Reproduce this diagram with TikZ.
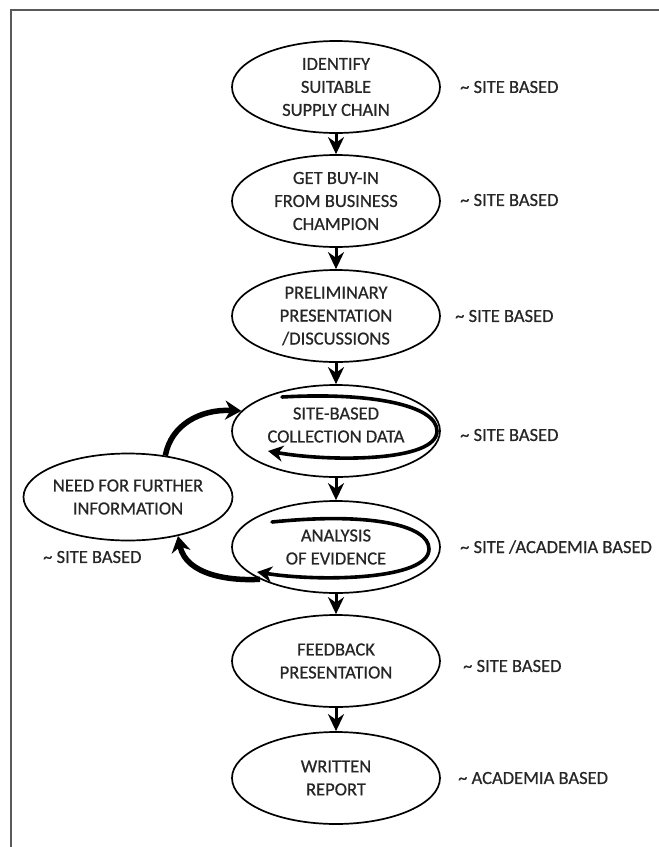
\documentclass[tikz,border=0pt]{standalone}
\usepackage{fontspec}
\setmainfont{Carlito}[FakeBold=0.6]
\usetikzlibrary{shapes.geometric,arrows.meta}
\begin{document}
\begin{tikzpicture}[x=1pt,y=-1pt,
  txt/.style={font=\fontsize{18.5}{23}\selectfont, text=black!85},
  stage/.style={ellipse, draw, line width=1.7pt, minimum width=208pt, minimum height=92pt,
    inner sep=0pt, align=center, txt},
  note/.style={anchor=west, inner sep=0pt, txt},
  flow/.style={line width=3pt, -{Stealth[length=17pt,width=16pt]}},
  spin/.style={line width=3.6pt, line cap=round, -{Stealth[length=15pt,width=16pt]}},
  back/.style={line width=5.5pt, -{Stealth[length=16pt,width=19pt]}},
]
\useasboundingbox (0,0) rectangle (659,847);
% page frame (top and left edges)
\draw[line width=2pt, black!65] (11,847) -- (11,10) -- (659,10);

% main sequence of stages
\node[stage] (e1) at (336,87)  {IDENTIFY\\SUITABLE\\SUPPLY CHAIN};
\node[stage] (e2) at (336,201) {GET BUY-IN\\FROM BUSINESS\\CHAMPION};
\node[stage] (e3) at (336,316) {PRELIMINARY\\PRESENTATION\\/DISCUSSIONS};
\node[stage, label={[txt, align=center, inner sep=0pt, yshift=6pt]center:SITE-BASED\\COLLECTION DATA}]
  (e4) at (336,431) {};
\node[stage] (e5) at (336,547) {ANALYSIS\\OF EVIDENCE};
\node[stage] (e6) at (336,661) {FEEDBACK\\PRESENTATION};
\node[stage] (e7) at (336,778) {WRITTEN\\REPORT};
\node[stage, inner xsep=-3pt, minimum width=209pt, minimum height=87pt] (need) at (128,497)
  {NEED FOR FURTHER\\INFORMATION};

% where each stage takes place
\node[note] (n1) at (460,87)  {\textasciitilde\ SITE BASED};
\node[note] (n2) at (460,200) {\textasciitilde\ SITE BASED};
\node[note] (n3) at (455,316) {\textasciitilde\ SITE BASED};
\node[note] (n4) at (460,435) {\textasciitilde\ SITE BASED};
\node[note] (n5) at (460,547) {\textasciitilde\ SITE /ACADEMIA BASED};
\node[note] (n6) at (463,666) {\textasciitilde\ SITE BASED};
\node[note] (n7) at (458,778) {\textasciitilde\ ACADEMIA BASED};
\node[note] (n8) at (43,557)  {\textasciitilde\ SITE BASED};

% forward flow
\draw[flow] (e1) -- (e2);
\draw[flow] (e2) -- (e3);
\draw[flow] (e3) -- (e4);
\draw[flow] (e4) -- (e5);
\draw[flow] (e5) -- (e6);
\draw[flow] (e6) -- (e7);

% iterative loops inside the data stages
\coordinate (s4a) at (282,397);
\coordinate (s4b) at (437,431);
\coordinate (s4c) at (268,451);
\draw[spin] (s4a) .. controls (370,392) and (437,405) .. (s4b)
                  .. controls (437,462) and (330,462) .. (s4c);
\coordinate (s5a) at (272,522);
\coordinate (s5b) at (429,549);
\coordinate (s5c) at (257,572);
\draw[spin] (s5a) .. controls (370,512) and (429,525) .. (s5b)
                  .. controls (429,580) and (320,582) .. (s5c);

% feedback loop through the further-information stage
\draw[back] (e5.203) .. controls (232,581) and (186,576) .. (need.322);
\draw[back] (need.48) .. controls (171,425) and (200,409) .. (e4.168);
\end{tikzpicture}
\end{document}
